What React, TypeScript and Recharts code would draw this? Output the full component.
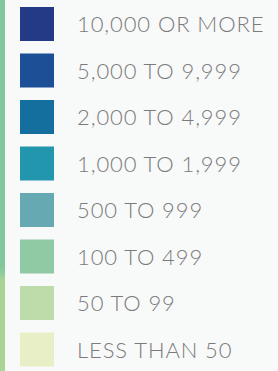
import { BarChart, Bar, XAxis, YAxis, Cell } from "recharts";

const ranges = [
  "10,000 OR MORE",
  "5,000 TO 9,999",
  "2,000 TO 4,999",
  "1,000 TO 1,999",
  "500 TO 999",
  "100 TO 499",
  "50 TO 99",
  "LESS THAN 50",
];

const swatchColors = [
  "#253a87",
  "#1c4f96",
  "#156f9e",
  "#2296ad",
  "#67a9b3",
  "#8fcaa5",
  "#bedcaa",
  "#e8efc7",
];

// every swatch is one full unit wide
const swatchValues = [1, 1, 1, 1, 1, 1, 1, 1];

const data = ranges.map((name, i) => ({ name, value: swatchValues[i], color: swatchColors[i] }));

function RangeTick(props: any) {
  const { x, y, payload } = props;
  return (
    <text
      x={x + 23}
      y={y}
      dy={8}
      textAnchor="start"
      fill="#7b7b7b"
      fontFamily="Lato"
      fontWeight={300}
      fontSize={22}
      letterSpacing={0.9}
    >
      {payload.value}
    </text>
  );
}

export default function App() {
  return (
    <div
      style={{
        position: "absolute",
        top: 0,
        left: 0,
        width: 278,
        height: 371,
        overflow: "hidden",
        background: "#f8f9f9",
      }}
    >
      <div
        style={{
          position: "absolute",
          left: 0,
          top: 0,
          width: 5,
          height: 371,
          background: "linear-gradient(#82c79b 0%, #82c79b 72%, #a8d596 76%, #a8d596 100%)",
        }}
      />
      <BarChart
        width={278}
        height={373}
        data={data}
        layout="vertical"
        margin={{ top: 1, right: 0, left: 20, bottom: 0 }}
        barCategoryGap={0}
      >
        <XAxis type="number" domain={[0, 1]} hide />
        <YAxis
          dataKey="name"
          type="category"
          orientation="right"
          width={224}
          axisLine={false}
          tickLine={false}
          tickSize={0}
          tickMargin={0}
          tick={<RangeTick />}
          interval={0}
        />
        <Bar dataKey="value" barSize={34} isAnimationActive={false}>
          {data.map((entry, index) => (
            <Cell key={`cell-${index}`} fill={entry.color} />
          ))}
        </Bar>
      </BarChart>
    </div>
  );
}
